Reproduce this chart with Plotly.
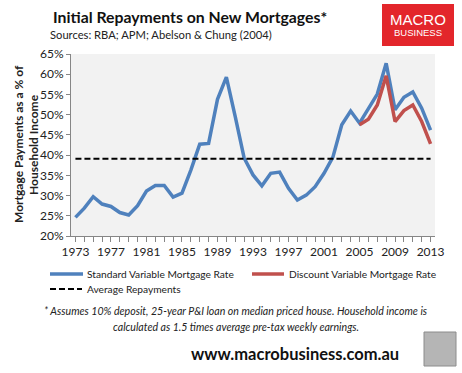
import plotly.graph_objects as go

years = list(range(1973, 2014))
standard_rate = [24.6, 26.9, 29.7, 27.9, 27.3, 25.8, 25.2, 27.5, 31.1, 32.5,
                 32.5, 29.6, 30.6, 36.3, 42.7, 42.9, 53.8, 59.3, 49.5, 39.3,
                 35.1, 32.4, 35.5, 35.8, 31.8, 28.9, 30.1, 32.2, 35.5, 39.5,
                 47.5, 50.9, 47.9, 51.6, 55.1, 62.7, 51.2, 54.3, 55.6, 51.6,
                 46.2]
discount_years = list(range(2005, 2014))
discount_rate = [47.5, 48.9, 52.4, 59.6, 48.3, 51.0, 52.4, 48.3, 42.8]
average_value = 39.1
average_line = [average_value for _ in years]

x_ticks = list(range(1973, 2014, 4))
y_ticks = list(range(20, 66, 5))
y_labels = [f"{v}%" for v in y_ticks]

series_names = ["Standard Variable Mortgage Rate",
                "Discount Variable Mortgage Rate",
                "Average Repayments"]
BLUE, RED = "#4f81bd", "#c0504d"

FONT = "Lato"
W, H = 462, 373
L, R, T, B = 71, 435, 54, 236


def px(x):
    return (x - L) / (R - L)


def py(y):
    return (B - y) / (B - T)


fig = go.Figure()
fig.add_trace(go.Scatter(x=years, y=standard_rate, mode="lines",
                         name=series_names[0], showlegend=False,
                         line=dict(color=BLUE, width=3.5)))
fig.add_trace(go.Scatter(x=discount_years, y=discount_rate, mode="lines",
                         name=series_names[1], showlegend=False,
                         line=dict(color=RED, width=3.5)))
fig.add_trace(go.Scatter(x=years, y=average_line, mode="lines",
                         name=series_names[2], showlegend=False,
                         line=dict(color="black", width=2, dash="6px,3px")))

fig.update_layout(
    width=W, height=H,
    margin=dict(l=L, r=W - R, t=T, b=H - B),
    paper_bgcolor="white", plot_bgcolor="#f2f2f2",
    font=dict(family=FONT, size=12, color="#222"),
    showlegend=False,
    xaxis=dict(range=[1972.5, 2013.5], tickmode="array", tickvals=x_ticks,
               ticks="outside", ticklen=5, tickcolor="#868686",
               showline=True, linecolor="#868686", linewidth=1,
               showgrid=False, zeroline=False,
               tickfont=dict(size=12, family=FONT, color="#222"),
               minor=dict(dtick=1, tick0=1973, ticks="outside", ticklen=5,
                          tickcolor="#868686", showgrid=False)),
    yaxis=dict(range=[20, 65], tickmode="array", tickvals=y_ticks, ticktext=y_labels,
               ticks="outside", ticklen=4, tickcolor="#868686",
               showline=True, linecolor="#868686", linewidth=1,
               showgrid=False, zeroline=False,
               tickfont=dict(size=12, family=FONT, color="#222")),
)

anns = [
    dict(text="<b>Initial Repayments on New Mortgages*</b>", x=px(51), y=py(16),
         xanchor="left", yanchor="middle", font=dict(size=15.8, family=FONT, color="#111")),
    dict(text="Sources: RBA; APM; Abelson &amp; Chung (2004)", x=px(48), y=py(35),
         xanchor="left", yanchor="middle", font=dict(size=11.2, family=FONT, color="#222")),
    dict(text="<b>Mortgage Payments as a % of</b>", x=px(18), y=py(144),
         xanchor="center", yanchor="middle", textangle=-90,
         font=dict(size=12, family=FONT, color="#222")),
    dict(text="<b>Household Income</b>", x=px(33), y=py(145),
         xanchor="center", yanchor="middle", textangle=-90,
         font=dict(size=12, family=FONT, color="#222")),
    dict(text=series_names[0], x=px(85), y=py(274), xanchor="left", yanchor="middle",
         font=dict(size=10.2, family=FONT, color="#222")),
    dict(text=series_names[1], x=px(287), y=py(274), xanchor="left", yanchor="middle",
         font=dict(size=10.2, family=FONT, color="#222")),
    dict(text=series_names[2], x=px(85), y=py(289), xanchor="left", yanchor="middle",
         font=dict(size=10.2, family=FONT, color="#222")),
    dict(text="<i>* Assumes 10% deposit, 25-year P&amp;I loan on median priced house. Household income is</i>",
         x=px(236), y=py(311), xanchor="center", yanchor="middle",
         font=dict(size=10.6, family=FONT, color="#222")),
    dict(text="<i>calculated as 1.5 times average pre-tax weekly earnings.</i>",
         x=px(236), y=py(327), xanchor="center", yanchor="middle",
         font=dict(size=10.6, family=FONT, color="#222")),
    dict(text="<b>www.macrobusiness.com.au</b>", x=px(295), y=py(354),
         xanchor="center", yanchor="middle", font=dict(size=16.5, family=FONT, color="#111")),
    dict(text="MACRO", x=px(418), y=py(19), xanchor="center", yanchor="middle",
         font=dict(size=15, family="Liberation Sans", color="white")),
    dict(text="BUSINESS", x=px(418), y=py(33), xanchor="center", yanchor="middle",
         font=dict(size=9.5, family="Liberation Sans", color="white")),
]
for a in anns:
    a.update(xref="paper", yref="paper", showarrow=False)
    fig.add_annotation(**a)

# legend swatches
fig.add_shape(type="line", xref="paper", yref="paper", x0=px(50), x1=px(83),
              y0=py(274), y1=py(274), line=dict(color=BLUE, width=3.5))
fig.add_shape(type="line", xref="paper", yref="paper", x0=px(252), x1=px(284),
              y0=py(274), y1=py(274), line=dict(color=RED, width=3.5))
fig.add_shape(type="line", xref="paper", yref="paper", x0=px(50), x1=px(82),
              y0=py(289), y1=py(289), line=dict(color="black", width=2, dash="6px,3px"))

# logo and picture placeholders
fig.add_shape(type="rect", xref="paper", yref="paper",
              x0=px(382), x1=px(454), y0=py(46), y1=py(4),
              fillcolor="#e3262b", line=dict(width=0), layer="below")
fig.add_shape(type="rect", xref="paper", yref="paper",
              x0=px(424), x1=px(456), y0=py(366), y1=py(332),
              fillcolor="#b5b5b5", line=dict(color="#8c8c8c", width=1))

fig.write_html("out.html", config={"displayModeBar": False},
               post_script="document.body.style.margin='0';document.body.style.overflow='hidden';")
